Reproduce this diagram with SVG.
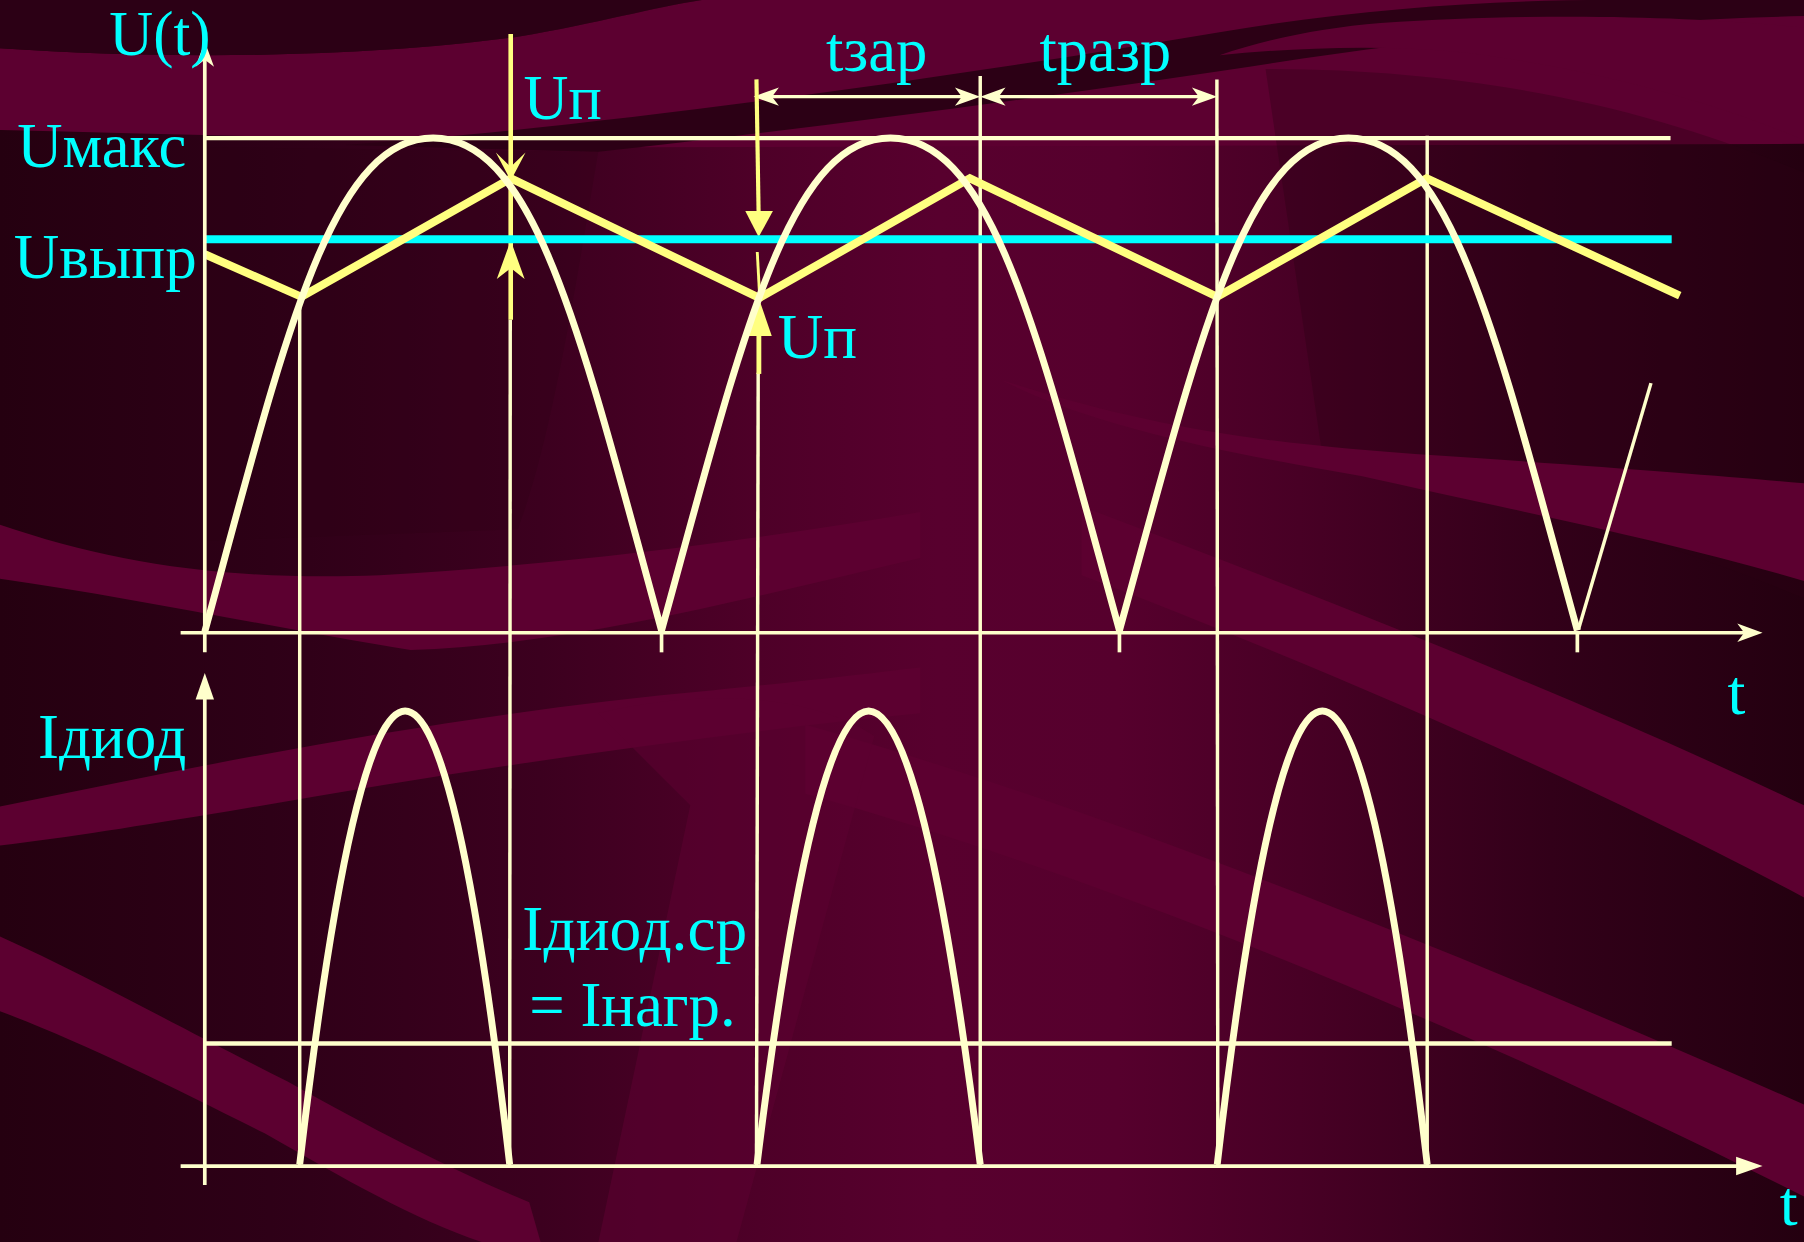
<svg xmlns="http://www.w3.org/2000/svg" width="1804" height="1242" viewBox="0 0 1804 1242">
<defs>
<linearGradient id="bg" x1="0" y1="0" x2="1" y2="0">
<stop offset="0" stop-color="#250010"/>
<stop offset="0.15" stop-color="#2e0017"/>
<stop offset="0.3" stop-color="#3c001f"/>
<stop offset="0.42" stop-color="#4e0028"/>
<stop offset="0.52" stop-color="#58002e"/>
<stop offset="0.62" stop-color="#56002d"/>
<stop offset="0.72" stop-color="#480025"/>
<stop offset="0.86" stop-color="#320019"/>
<stop offset="1" stop-color="#240010"/>
</linearGradient>
<marker id="barb" markerUnits="userSpaceOnUse" viewBox="-24 -10 30 20" refX="0" refY="0" markerWidth="30" markerHeight="20" orient="auto-start-reverse">
<path d="M5,0 L-17,-8 L-11,0 L-17,8 Z" fill="#ffffcc"/>
</marker>
<marker id="tri" markerUnits="userSpaceOnUse" viewBox="-24 -10 30 20" refX="0" refY="0" markerWidth="30" markerHeight="20" orient="auto">
<path d="M5,0 L-18,-8 L-18,8 Z" fill="#ffffcc"/>
</marker>
<style>
.lbl{font-family:"Liberation Serif","Times New Roman",serif;font-size:56px;fill:#00ffff}
.thin{stroke:#ffffcc;stroke-width:3;fill:none}
.hl{stroke:#ffffcc;stroke-width:3.8;fill:none}
.axis{stroke:#ffffcc;stroke-width:3.2;fill:none}
.wave{stroke:#ffffcc;stroke-width:6;fill:none;stroke-linejoin:round}
.saw{stroke:#ffff80;stroke-width:7;fill:none;stroke-linejoin:miter}
.yl{stroke:#ffff80;fill:none}
.yh{fill:#ffff80}
.band{fill:#5c0030}
.dark{fill:#2c0015}
</style>
</defs>
<g transform="scale(1.15051)">
<g id="background">
<rect x="0" y="0" width="1568" height="1080" fill="url(#bg)"/>
<path class="band" d="M0,42 C150,52 320,50 450,32 C520,20 570,6 610,0 L1568,0 L1568,125 L560,128 C400,122 200,118 0,113 Z"/>
<path class="dark" d="M300,126 C500,112 800,72 1060,28 C1180,8 1290,0 1400,0 L1568,0 L1568,14 C1400,18 1250,32 1086,58 C900,86 700,112 520,132 Z"/>
<path class="dark" d="M0,0 L610,0 C570,6 520,20 450,32 C320,50 150,52 0,42 Z"/>
<path class="band" d="M1200,20 C1350,10 1480,15 1568,24 L1568,122 C1508,96 1411,64 1277,46 C1200,38 1120,42 1060,48 C1100,34 1150,24 1200,20 Z"/>
<path class="dark" d="M1100,60 C1300,60 1450,100 1568,150 L1568,520 C1400,450 1250,420 1150,400 Z" opacity="0.35"/>
<path class="dark" d="M180,128 L520,132 C500,250 480,380 450,460 L180,470 Z" opacity="0.25"/>
<path class="band" d="M0,456 C100,490 200,505 330,500 C500,490 650,470 800,445 L800,485 C650,520 500,560 357,565 C250,548 120,520 0,503 Z"/>
<path class="band" d="M0,701 C200,660 400,620 620,600 C700,592 760,585 800,580 L800,620 C600,640 400,670 200,705 C120,718 60,728 0,735 Z"/>
<path class="band" d="M0,814 C80,850 150,890 250,940 C330,985 400,1020 460,1045 L470,1080 L420,1080 C360,1060 300,1025 230,985 C150,945 70,905 0,879 Z"/>
<path class="band" d="M870,330 C1000,372 1100,386 1250,396 C1400,406 1500,414 1568,420 L1568,505 C1450,470 1300,440 1184,414 C1080,396 950,372 870,330 Z"/>
<path class="band" d="M940,440 C1150,520 1380,610 1568,700 L1568,780 C1380,680 1150,580 940,500 Z"/>
<path class="band" d="M700,630 C950,700 1250,820 1568,960 L1568,1040 C1250,880 950,760 700,690 Z"/>
<path class="band" d="M520,620 C600,600 700,600 760,640 L640,1080 L520,1080 L600,700 Z" opacity="0.6"/>
</g>
<g id="connectors">
<line class="hl" x1="178" y1="120" x2="1452" y2="120"/>
<line class="hl" x1="178" y1="907" x2="1453" y2="907"/>
<line class="thin" x1="260.5" y1="258" x2="260.5" y2="1013"/>
<line class="thin" x1="443.5" y1="278" x2="443" y2="1013"/>
<line class="thin" x1="659" y1="324" x2="657.5" y2="1013"/>
<line class="thin" stroke-width="2.6" x1="852" y1="66" x2="852" y2="1013"/>
<line class="thin" stroke-width="2.6" x1="1057.7" y1="69" x2="1058.5" y2="1013"/>
<line class="thin" stroke-width="2.6" x1="1240.5" y1="118" x2="1240.5" y2="1013"/>
<line class="thin" x1="660" y1="84" x2="847" y2="84" marker-start="url(#barb)" marker-end="url(#barb)"/>
<line class="thin" x1="857" y1="84" x2="1053" y2="84" marker-start="url(#barb)" marker-end="url(#barb)"/>
<line class="yl" stroke-width="4" x1="443.9" y1="29.6" x2="443.9" y2="278"/>
<polygon class="yh" points="443.9,157 431,132.5 443.9,145 456.8,132.5"/>
<polygon class="yh" points="443.9,209 431.8,242.5 443.9,233 456,242.5"/>
<line class="yl" stroke-width="3.6" x1="657.5" y1="69" x2="659.4" y2="188"/>
<polygon class="yh" points="647.8,183.5 671.8,183.5 659.4,206"/>
<line class="yl" stroke-width="2.5" x1="658.2" y1="219" x2="660.3" y2="258"/>
<polygon class="yh" points="660,260.5 648.8,292 670.8,292"/>
<line class="yl" stroke-width="4.2" x1="659.6" y1="290" x2="659.6" y2="325"/>
<line stroke="#00ffff" stroke-width="7" x1="178" y1="208" x2="1453" y2="208"/>
<polyline class="saw" points="178,221 262,258 444,155 660,259 843,155 1058,258 1240,155 1460,257"/>
<path class="wave" d="M178,549 C247.5,294.2 287.2,120 376.5,120 C465.8,120 505.5,294.2 575,548 C645,294.2 684.7,120 774,120 C863.3,120 903,294.2 973,548 C1043,294.2 1082.7,120 1172,120 C1261.3,120 1301,294.2 1371,548"/>
<line class="thin" stroke-width="2.6" x1="1372" y1="547" x2="1435" y2="333"/>
<path class="wave" d="M260.5,1012 Q352.5,224 443,1012 M658,1012 Q755,224 852,1012 M1058,1012 Q1149.5,224 1240.5,1012"/>
<line class="axis" x1="178" y1="567" x2="178" y2="41" marker-end="url(#barb)"/>
<line class="axis" x1="157" y1="550" x2="1527" y2="550" marker-end="url(#barb)"/>
<line class="axis" x1="575" y1="550" x2="575" y2="567"/>
<line class="axis" x1="973" y1="550" x2="973" y2="567"/>
<line class="axis" x1="1371" y1="550" x2="1371" y2="567"/>
<line class="axis" x1="178" y1="1030" x2="178" y2="590" marker-end="url(#tri)"/>
<line class="axis" x1="157" y1="1013.5" x2="1527" y2="1013.5" marker-end="url(#tri)"/>
</g>
<g id="labels">
<text class="lbl" x="95" y="48" textLength="88" lengthAdjust="spacingAndGlyphs">U(t)</text>
<text class="lbl" x="15" y="145" textLength="147" lengthAdjust="spacingAndGlyphs">Uмакс</text>
<text class="lbl" x="12" y="242" textLength="159" lengthAdjust="spacingAndGlyphs">Uвыпр</text>
<text class="lbl" x="455" y="103" textLength="68" lengthAdjust="spacingAndGlyphs">Uп</text>
<text class="lbl" x="676" y="311.5" textLength="69" lengthAdjust="spacingAndGlyphs">Uп</text>
<text class="lbl" x="718" y="61.5" textLength="88" lengthAdjust="spacingAndGlyphs">tзар</text>
<text class="lbl" x="903.5" y="61.5" textLength="114.5" lengthAdjust="spacingAndGlyphs">tразр</text>
<text class="lbl" x="33" y="659" textLength="129" lengthAdjust="spacingAndGlyphs">Iдиод</text>
<text class="lbl" x="454" y="826" textLength="195.5" lengthAdjust="spacingAndGlyphs">Iдиод.ср</text>
<text class="lbl" x="460" y="892" textLength="179.5" lengthAdjust="spacingAndGlyphs">= Iнагр.</text>
<text class="lbl" x="1501.5" y="620.5">t</text>
<text class="lbl" x="1547" y="1065">t</text>
</g>
</g>
</svg>
